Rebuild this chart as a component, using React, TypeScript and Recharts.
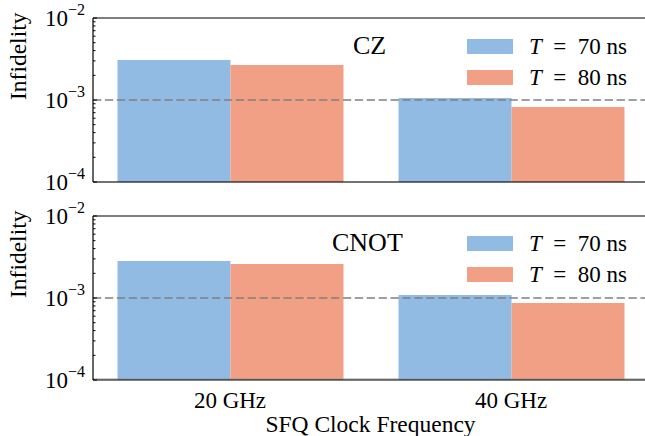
import React from "react"
import { Bar, BarChart, ReferenceLine, XAxis, YAxis } from "recharts"

// data
const clocks = [0, 1]
const clockLabels = ["20 GHz", "40 GHz"]
const czT70 = [3.07e-3, 1.06e-3]
const czT80 = [2.67e-3, 0.82e-3]
const cnotT70 = [2.82e-3, 1.09e-3]
const cnotT80 = [2.6e-3, 0.87e-3]
const seriesNames = ["70", "80"]
const majorTicks = [1e-4, 1e-3, 1e-2]
const minorTicks = [2, 3, 4, 5, 6, 7, 8, 9].flatMap((m) => [m * 1e-4, m * 1e-3])
const threshold = 1e-3

const BLUE = "#92bbe4"
const RED = "#f1a085"
const FONT = "'Liberation Serif', 'DejaVu Serif', serif"
const PLOT_LEFT = 93

const makeRows = (a: number[], b: number[]) =>
  clocks.map((x, i) => ({ x, t70: a[i], t80: b[i] }))

// log y tick: inward tick marks, labels only on decades
function LogTick(props: any) {
  const { y, payload } = props
  const v = payload.value
  const exp = Math.round(Math.log10(v))
  const isMajor = Math.abs(v - Math.pow(10, exp)) < 1e-9
  return (
    <g>
      <line x1={PLOT_LEFT} x2={PLOT_LEFT + (isMajor ? 4 : 2.5)} y1={y} y2={y} stroke="#000" strokeWidth={1} />
      {isMajor && (
        <text x={PLOT_LEFT - 8} y={y + 8} textAnchor="end" style={{ fontFamily: FONT }} fontSize={23} fill="#000">
          10
          <tspan fontSize={16} dy={-11}>{"\u2212" + Math.abs(exp)}</tspan>
        </text>
      )}
    </g>
  )
}

function LegendBox({ top }: { top: number }) {
  return (
    <div style={{ position: "absolute", left: 467, top, fontFamily: FONT, fontSize: 23, color: "#000" }}>
      {[BLUE, RED].map((c, i) => (
        <div key={i} style={{ display: "flex", alignItems: "center", height: 31 }}>
          <div style={{ width: 46, height: 15, background: c, marginRight: 16 }} />
          <span style={{ whiteSpace: "pre" }}>
            <i>T</i>{"  =  " + seriesNames[i] + " ns"}
          </span>
        </div>
      ))}
    </div>
  )
}

function Panel({ rows, bottom }: { rows: any[]; bottom: boolean }) {
  return (
    <BarChart
      width={650}
      height={bottom ? 238 : 200}
      data={rows}
      margin={{ top: 18, right: 2, left: 0, bottom: bottom ? 0 : 18 }}
      barGap={0}
      style={{ fontFamily: FONT }}
    >
      <XAxis
        dataKey="x"
        type="number"
        domain={[-0.4875, 1.4875]}
        allowDataOverflow
        ticks={clocks}
        tickFormatter={(v) => clockLabels[v]}
        tickLine={false}
        axisLine={bottom ? { stroke: "#000", strokeWidth: 1 } : false}
        tick={bottom ? { fontSize: 23, fill: "#000" } : false}
        tickMargin={6}
        height={bottom ? 56 : 0}
        label={
          bottom
            ? { value: "SFQ Clock Frequency", position: "insideBottom", offset: 4, fontSize: 23.5, fill: "#000" }
            : undefined
        }
      />
      <YAxis
        scale="log"
        domain={[1e-4, 1e-2]}
        allowDataOverflow
        ticks={[...majorTicks, ...minorTicks]}
        interval={0}
        width={PLOT_LEFT}
        tickSize={0}
        tickMargin={0}
        tickLine={false}
        axisLine={{ stroke: "#000", strokeWidth: 1.2 }}
        tick={<LogTick />}
        label={{ value: "Infidelity", angle: -90, position: "insideLeft", offset: 18, fontSize: 23.5, fill: "#000" }}
      />
      <Bar dataKey="t70" fill={BLUE} barSize={113} isAnimationActive={false} />
      <Bar dataKey="t80" fill={RED} barSize={113} isAnimationActive={false} />
      <ReferenceLine y={threshold} stroke="#808080" strokeWidth={1.6} strokeDasharray="8.3 3.6" />
      <ReferenceLine y={1e-2} stroke="#000" strokeWidth={1.2} />
      <ReferenceLine
        y={1e-4}
        stroke={bottom ? "#999" : "#000"}
        strokeOpacity={bottom ? 1 : 0.55}
        strokeWidth={bottom ? 1 : 2}
        transform={bottom ? "translate(0,-1)" : undefined}
      />
    </BarChart>
  )
}

export default function App() {
  return (
    <div
      style={{
        position: "absolute",
        left: 0,
        top: 0,
        width: 645,
        height: 436,
        overflow: "hidden",
        background: "#fff",
        fontFamily: FONT,
      }}
    >
      <div style={{ position: "absolute", left: 0, top: 0 }}>
        <Panel rows={makeRows(czT70, czT80)} bottom={false} />
      </div>
      <div style={{ position: "absolute", left: 0, top: 198 }}>
        <Panel rows={makeRows(cnotT70, cnotT80)} bottom={true} />
      </div>
      <LegendBox top={31} />
      <LegendBox top={228} />
      <div style={{ position: "absolute", left: 353, top: 30, fontSize: 26, lineHeight: "32px" }}>CZ</div>
      <div style={{ position: "absolute", left: 332, top: 227, fontSize: 26, lineHeight: "32px" }}>CNOT</div>
    </div>
  )
}
